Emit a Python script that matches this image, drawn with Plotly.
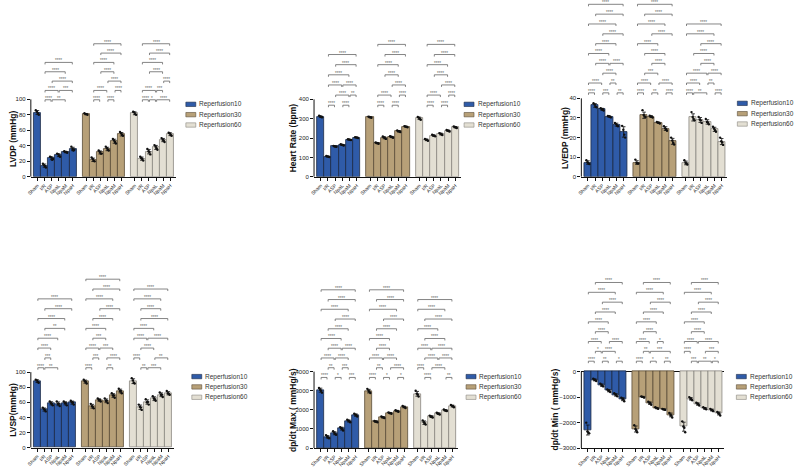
import numpy as np
import plotly.graph_objects as go

CATEGORIES = ["Sham", "I/R", "ASP", "NpaL", "NpaM", "NpaH"]
SERIES = ["Reperfusion10", "Reperfusion30", "Reperfusion60"]
COLORS = ["#2F5BA8", "#B7A078", "#E3DFD3"]
EDGES = ["#1c2a45", "#5a4d39", "#8a8780"]

# ---------------- data (bar means, individual points) ----------------
LVDP_R10 = [83, 14.5, 24, 28, 32, 36]
LVDP_R30 = [81, 22, 31.5, 36, 46, 55]
LVDP_R60 = [82, 23.5, 32.5, 38, 47.5, 55]
LVDP_P10 = [[86, 80, 84, 82], [17, 12, 15, 14], [26, 23, 25, 22], [30, 26, 29, 27], [33, 31, 32, 32], [39, 35, 36, 34]]
LVDP_P30 = [[82, 80, 81, 81], [25, 20, 23, 21], [34, 30, 32, 30], [39, 34, 37, 35], [49, 43, 47, 45], [58, 53, 56, 54]]
LVDP_P60 = [[84, 80, 83, 81], [26, 21, 24, 23], [36, 29, 33, 32], [41, 35, 39, 37], [50, 45, 48, 47], [57, 53, 56, 54]]

HR_R10 = [311, 105, 157, 165, 192, 203]
HR_R30 = [308, 174, 202, 206, 235, 259]
HR_R60 = [302, 191, 213, 221, 238, 256]
HR_P10 = [[316, 308, 312, 309], [108, 102, 106, 104], [160, 155, 158, 156], [168, 162, 166, 164], [194, 190, 193, 191], [205, 200, 204, 202]]
HR_P30 = [[311, 305, 309, 307], [177, 171, 175, 173], [208, 196, 204, 200], [210, 202, 207, 205], [239, 231, 236, 234], [262, 256, 260, 258]]
HR_P60 = [[309, 295, 305, 299], [196, 186, 192, 190], [217, 209, 214, 212], [226, 216, 223, 219], [242, 234, 239, 237], [260, 252, 257, 255]]

LVEDP_R10 = [7.3, 36.4, 34.4, 30.7, 26.6, 22.9]
LVEDP_R30 = [7.3, 31.4, 30.7, 27.6, 24.6, 18.1]
LVEDP_R60 = [7.1, 30.3, 29.0, 28.0, 24.2, 18.0]
LVEDP_P10 = [[8.5, 6.5, 7.5, 6.8], [37.5, 35.5, 36.8, 35.8], [35, 33.8, 34.6, 34.2], [31, 30.3, 30.9, 30.6], [27.5, 25.8, 26.9, 26.2], [26, 20, 24, 21.5]]
LVEDP_P30 = [[8.8, 6.8, 7.2, 6.9], [34, 30.5, 31.5, 30.8], [31.2, 30.2, 30.8, 30.6], [28, 27.2, 27.7, 27.5], [25.8, 23.5, 24.8, 24.3], [20, 16.5, 18.5, 17.4]]
LVEDP_P60 = [[8.5, 6.3, 7.2, 6.8], [33, 28.8, 30.5, 29.5], [30.5, 27.5, 29.2, 28.8], [29.5, 26.8, 28, 27.7], [25.5, 23, 24.5, 23.8], [20, 16.3, 18.2, 17.5]]

LVSP_R10 = [88, 50.4, 58.7, 58, 58.7, 59.6]
LVSP_R30 = [87.4, 54.8, 63, 62, 69, 75]
LVSP_R60 = [88, 53.5, 60.4, 64.8, 70, 72]
LVSP_P10 = [[90, 86, 89, 87], [53, 48, 51, 50], [61, 56, 59, 58], [61, 55, 58, 58], [61, 56, 59, 59], [62, 57, 60, 59.5]]
LVSP_P30 = [[90, 85, 88, 87], [58, 52, 55, 54], [65, 61, 63, 63], [65, 59, 62, 62], [72, 66, 69, 69], [78, 72, 75, 75]]
LVSP_P60 = [[92, 85, 89, 86], [57, 50, 54, 53], [64, 57, 60, 60.5], [68, 62, 65, 64], [73, 67, 70, 70], [75, 70, 72, 71]]

DPMAX_R10 = [3030, 590, 780, 1020, 1420, 1730]
DPMAX_R30 = [2980, 1385, 1610, 1835, 1940, 2150]
DPMAX_R60 = [2840, 1330, 1645, 1800, 1975, 2200]
DPMAX_P10 = [[3150, 2900, 3050, 3000], [680, 520, 600, 560], [880, 700, 800, 740], [1100, 920, 1040, 1000], [1480, 1350, 1440, 1400], [1800, 1650, 1740, 1720]]
DPMAX_P30 = [[3100, 2880, 3000, 2950], [1420, 1350, 1390, 1380], [1650, 1570, 1620, 1600], [1870, 1800, 1840, 1830], [1980, 1900, 1950, 1930], [2200, 2100, 2160, 2140]]
DPMAX_P60 = [[3000, 2700, 2850, 2800], [1450, 1230, 1350, 1300], [1700, 1600, 1650, 1630], [1850, 1760, 1810, 1780], [2020, 1940, 1980, 1960], [2260, 2140, 2210, 2190]]

DPMIN_R10 = [-2290, -325, -530, -750, -910, -1080]
DPMIN_R30 = [-2250, -990, -1235, -1430, -1480, -1700]
DPMIN_R60 = [-2160, -1065, -1270, -1440, -1505, -1640]
DPMIN_P10 = [[-2000, -2420, -2350, -2390], [-280, -370, -320, -330], [-470, -580, -520, -550], [-700, -800, -740, -760], [-850, -970, -900, -920], [-1020, -1160, -1070, -1080]]
DPMIN_P30 = [[-2100, -2380, -2250, -2300], [-970, -1020, -990, -1000], [-1180, -1300, -1230, -1240], [-1400, -1460, -1420, -1440], [-1460, -1500, -1480, -1490], [-1620, -1800, -1700, -1720]]
DPMIN_P60 = [[-1950, -2380, -2150, -2200], [-1000, -1120, -1060, -1080], [-1220, -1330, -1260, -1280], [-1400, -1480, -1430, -1450], [-1460, -1550, -1500, -1510], [-1580, -1720, -1630, -1650]]

# y tick values
LVDP_TICKS = [0, 20, 40, 60, 80, 100]
HR_TICKS = [0, 100, 200, 300, 400]
LVEDP_TICKS = [0, 10, 20, 30, 40]
LVSP_TICKS = [0, 20, 40, 60, 80, 100]
DPMAX_TICKS = [0, 1000, 2000, 3000, 4000]
DPMIN_TICKS = [-3000, -2000, -1000, 0]

# significance brackets: rows bottom->top, token "ij<stars>" (category indices)
LVDP_BR = ["12**** 24** | 13**** 35*** | 25**** | 14**** | 15****",
           "12**** 34**** | 13**** 45**** | 35**** | 24**** | 14**** | 25**** | 15****",
           "12**** 23* 35**** | 13**** 34*** | 45**** | 24**** | 14**** | 25**** | 15****"]
HR_BR = ["12**** 34**** | 24**** 45** | 13**** 35**** | 14**** | 25**** | 15****",
         "12**** 34**** | 13**** 45**** | 35**** | 24**** | 14**** | 25**** | 15****",
         "12**** 34**** | 13**** 45**** | 35**** | 24**** | 14**** | 25**** | 15****"]
LVEDP_BR = ["01**** 23*** 45** | 02**** 34** | 24**** | 13**** 35**** | 03**** | 14**** | 25**** | 04**** | 15**** | 05****",
            "01**** 23** 45**** | 02**** 35**** | 13*** | 24**** | 14**** | 03**** | 25**** | 04**** | 15**** | 05****",
            "01**** 13** 45**** | 02**** 34** | 03**** 35**** | 24**** | 14**** | 25**** | 04**** | 05****"]
LVSP_BR = ["01**** 13** | 12*** | 02**** | 03**** | 14** | 04**** | 15**** | 05****",
           "01**** 34** | 12*** 35**** | 02**** 24*** | 13*** | 03**** | 14**** | 25**** | 04**** | 15**** | 05****",
           "12** 24*** | 01**** 35** | 13**** | 02**** 25**** | 03**** | 15**** | 14**** | 04**** | 05****"]
DPMAX_BR = ["01**** 23* 45*** | 12** 34*** | 02**** 24**** | 13**** 35**** | 03**** | 14**** | 25**** | 04**** | 15**** | 05****",
            "01**** 23* 45* | 12** 35**** | 02**** 24**** | 13**** | 03**** | 14**** | 25**** | 04**** | 15**** | 05****",
            "12**** 45** | 01**** 24**** | 13**** 35**** | 02**** 25**** | 14**** | 03**** | 15**** | 04**** | 05****"]
DPMIN_BR = ["01**** 23** 45* | 12* 24**** | 02**** 35**** | 13**** | 03**** | 14**** | 25**** | 04**** | 15****",
            "01**** 23* 45** | 12** 25*** | 02**** 34* | 13**** | 03**** | 14**** | 25**** | 04**** | 15****",
            "12*** 24** 45* | 01**** 35*** | 02**** 25**** | 13**** | 03**** | 14**** | 25**** | 04**** | 15****"]

# ---------------- layout of panels (pixel frame) ----------------
W, H = 794, 471
GSTEP = 6.85
XR = [-0.92, 2 * GSTEP + 5 + 0.8]
JIT = [-0.22, 0.2, -0.06, 0.08]

PANELS = [
    dict(title="LVDP (mmHg)", means=[LVDP_R10, LVDP_R30, LVDP_R60], pts=[LVDP_P10, LVDP_P30, LVDP_P60],
         ticks=LVDP_TICKS, br=LVDP_BR, x0=26, x1=172, ptop=100, pbot=178, top=0, leg=(182, 105), row=9.4, tx=8),
    dict(title="Heart Rate (bpm)", means=[HR_R10, HR_R30, HR_R60], pts=[HR_P10, HR_P30, HR_P60],
         ticks=HR_TICKS, br=HR_BR, x0=311, x1=459, ptop=100, pbot=178, top=0, leg=(462, 105), row=10.2, tx=290),
    dict(title="LVEDP (mmHg)", means=[LVEDP_R10, LVEDP_R30, LVEDP_R60], pts=[LVEDP_P10, LVEDP_P30, LVEDP_P60],
         ticks=LVEDP_TICKS, br=LVEDP_BR, x0=580, x1=727, ptop=99, pbot=178, top=0, leg=(737, 104), row=9.9, tx=563),
    dict(title="LVSP(mmHg)", means=[LVSP_R10, LVSP_R30, LVSP_R60], pts=[LVSP_P10, LVSP_P30, LVSP_P60],
         ticks=LVSP_TICKS, br=LVSP_BR, x0=26, x1=170, ptop=374.5, pbot=450.5, top=272, leg=(188, 379), row=9.9, tx=8),
    dict(title="dp/dt Max ( mmHg/s)", means=[DPMAX_R10, DPMAX_R30, DPMAX_R60], pts=[DPMAX_P10, DPMAX_P30, DPMAX_P60],
         ticks=DPMAX_TICKS, br=DPMAX_BR, x0=311, x1=456, ptop=374, pbot=451, top=272, leg=(464, 379), row=9.8, tx=290),
    dict(title="dp/dt Min ( mmHg/s)", means=[DPMIN_R10, DPMIN_R30, DPMIN_R60], pts=[DPMIN_P10, DPMIN_P30, DPMIN_P60],
         ticks=DPMIN_TICKS, br=DPMIN_BR, x0=580, x1=724, ptop=374, pbot=451, top=272, leg=(736, 379), row=9.9, tx=553),
]

FONT = "Liberation Sans, Arial, sans-serif"
fig = go.Figure()
shapes, annos = [], []
layout = dict(width=W, height=H, margin=dict(l=0, r=0, t=0, b=0), showlegend=False,
              plot_bgcolor="white", paper_bgcolor="white", font=dict(family=FONT, color="#222"))

for pi, P in enumerate(PANELS):
    n = "" if pi == 0 else str(pi + 1)
    xa, ya = "x" + n, "y" + n
    vbot, vtop = P["ticks"][0], P["ticks"][-1]
    upp = (vtop - vbot) / (P["pbot"] - P["ptop"])
    ymax = vbot + upp * (P["pbot"] - P["top"])
    tickx = []
    for g in range(3):
        xs = [g * GSTEP + k for k in range(6)]
        tickx += xs
        sd = [float(np.std(p, ddof=1)) for p in P["pts"][g]]
        fig.add_trace(go.Bar(x=xs, y=P["means"][g], width=1.0, name=SERIES[g], xaxis=xa, yaxis=ya,
                             marker=dict(color=COLORS[g], line=dict(color=EDGES[g], width=0.8)),
                             error_y=dict(type="data", array=sd, color="#111", thickness=0.8, width=1.8)))
        dx, dy = [], []
        for k, p in enumerate(P["pts"][g]):
            for j, v in enumerate(p):
                dx.append(xs[k] + JIT[j % len(JIT)])
                dy.append(v)
        fig.add_trace(go.Scatter(x=dx, y=dy, mode="markers", xaxis=xa, yaxis=ya,
                                 marker=dict(color="#111", size=2.4), hoverinfo="skip"))
    # axes
    layout["xaxis" + n] = dict(domain=[P["x0"] / W, P["x1"] / W], range=XR, anchor=ya,
                               showline=True, linecolor="#111", linewidth=1, ticks="outside", ticklen=3,
                               tickwidth=1, tickcolor="#111", tickvals=tickx, ticktext=CATEGORIES * 3,
                               tickangle=-45, tickfont=dict(size=5, color="#222"), showgrid=False, zeroline=False)
    layout["yaxis" + n] = dict(domain=[1 - P["pbot"] / H, 1 - P["top"] / H], range=[vbot, ymax], anchor=xa,
                               showline=False, ticks="outside", ticklen=3, tickwidth=1, tickcolor="#111",
                               tickvals=P["ticks"], tickfont=dict(size=6, color="#222"), showgrid=False,
                               zeroline=(vbot < 0), zerolinecolor="#111", zerolinewidth=1)
    # y-axis title centred on the drawn axis segment
    annos.append(dict(x=P["tx"] / W, y=1 - (P["ptop"] + P["pbot"]) / 2 / H, xref="paper", yref="paper",
                      text=P["title"], textangle=-90, showarrow=False, xanchor="center", yanchor="middle",
                      font=dict(size=8.5, color="#111", weight="bold")))
    shapes.append(dict(type="line", xref=xa + " domain", yref=ya, x0=0, x1=0, y0=vbot, y1=vtop,
                       line=dict(color="#111", width=1)))
    # brackets
    top_mark = max(0, max(max(max(p) for p in grp) for grp in P["pts"]))
    base = top_mark + 10.5 * upp
    step = P["row"] * upp
    tick = 2.0 * upp
    for g in range(3):
        rows = [r.split() for r in P["br"][g].split("|")]
        for r, row in enumerate(rows):
            y = base + r * step
            for tok in row:
                i, j, lab = int(tok[0]), int(tok[1]), tok[2:]
                xA = g * GSTEP + i + 0.08
                xB = g * GSTEP + j - 0.08
                shapes.append(dict(type="path", xref=xa, yref=ya,
                                   path=f"M {xA},{y - tick} L {xA},{y} L {xB},{y} L {xB},{y - tick}",
                                   line=dict(color="#666", width=0.8)))
                annos.append(dict(x=(xA + xB) / 2, y=y, xref=xa, yref=ya, text=lab, showarrow=False,
                                  yanchor="middle", yshift=1.5, font=dict(size=4.5, color="#666")))
    # legend (per panel)
    lx, ly = P["leg"]
    for k in range(3):
        cy = ly + k * 10.4
        shapes.append(dict(type="rect", xref="paper", yref="paper", x0=lx / W, x1=(lx + 10) / W,
                           y0=1 - (cy + 2.2) / H, y1=1 - (cy - 2.2) / H,
                           fillcolor=COLORS[k], line=dict(color=EDGES[k], width=0.6)))
        annos.append(dict(x=(lx + 13.5) / W, y=1 - cy / H, xref="paper", yref="paper", text=SERIES[k],
                          showarrow=False, xanchor="left", yanchor="middle", xshift=-2,
                          font=dict(size=6.5, color="#333")))

layout["shapes"] = shapes
layout["annotations"] = annos
layout["bargap"] = 0
fig.update_layout(**layout)
fig.write_html("out.html")
